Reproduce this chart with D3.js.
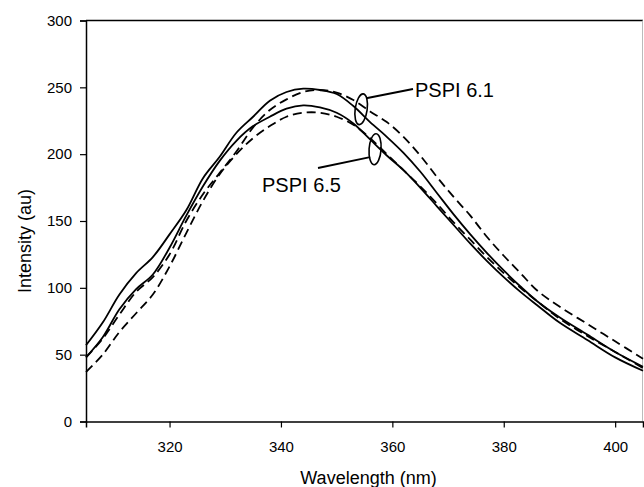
<!DOCTYPE html>
<html>
<head>
<meta charset="utf-8">
<script src="https://cdn.jsdelivr.net/npm/d3@7"></script>
<style>
  body { margin: 0; background: #fff; }
  svg { display: block; font-family: "Liberation Sans", Arial, sans-serif; }
</style>
</head>
<body>
<svg id="chart" width="644" height="487"></svg>
<script>
const width = 644;
const height = 487;
const margin = { top: 20.5, right: 1, bottom: 65.5, left: 86 };

// wavelength grid (nm)
const wavelengths = [305, 308, 311, 314, 317, 320, 323, 326, 329, 332, 335, 338, 341, 344, 347,
  350, 353, 356, 359, 362, 365, 368, 371, 374, 377, 380, 383, 386, 390, 395, 400, 405];

// PSPI 6.1 solid
const solidA = [57, 74, 95, 111, 123, 140, 158, 182, 198, 216, 228, 240, 246.5, 249, 248,
  245, 236, 224, 213, 201, 187, 171, 155, 140, 126, 113, 101, 90, 78, 65, 52, 41];
// PSPI 6.5 solid
const solidB = [48, 63, 84, 99, 110, 130, 154, 176, 195, 210, 221, 228, 234, 236.5, 235,
  231, 223, 211, 199, 188, 175, 161, 147, 133, 120, 108, 97, 87, 74, 61, 48, 38];
// PSPI 6.1 dashed
const dashedC = [48, 62, 80, 97, 108, 125, 150, 170, 186, 202, 220, 233, 241, 246.5, 248,
  246, 240.5, 232, 224, 213, 199, 183, 168, 154, 138, 124, 111, 98, 86, 73, 60, 47];
// PSPI 6.5 dashed
const dashedD = [37, 50, 67, 81, 95, 116, 141, 165, 185, 200, 212, 221, 228, 231, 231,
  228, 222, 212, 200, 188, 176, 163, 149, 136, 123, 111, 100, 90, 77, 64, 52, 40];

const xTicks = [320, 340, 360, 380, 400];
const yTicks = [0, 50, 100, 150, 200, 250, 300];

const series = [
  { values: solidA, dash: null },
  { values: solidB, dash: null },
  { values: dashedC, dash: "9,5" },
  { values: dashedD, dash: "9,5" }
];

// annotations: ellipse centre in data units, label text
const notes = [
  { label: "PSPI 6.1", at: [354.4, 233.6], rot: 8, lineTo: [413, 89], text: [415, 97], anchor: "start" },
  { label: "PSPI 6.5", at: [356.9, 203.7], rot: 4, lineTo: [318, 168], text: [262, 192], anchor: "start" }
];

const svg = d3.select("#chart");

const x = d3.scaleLinear().domain([305, 405]).range([margin.left, width - margin.right]);
const y = d3.scaleLinear().domain([0, 300]).range([height - margin.bottom, margin.top]);

// frame: top and right
svg.append("line")
  .attr("x1", x(305)).attr("x2", x(405))
  .attr("y1", y(300)).attr("y2", y(300))
  .attr("stroke", "#000").attr("stroke-width", 1.3);
svg.append("line")
  .attr("x1", x(405) - 0.5).attr("x2", x(405) - 0.5)
  .attr("y1", y(300)).attr("y2", y(0))
  .attr("stroke", "#bbb").attr("stroke-width", 1);

const xAxis = svg.append("g")
  .attr("transform", `translate(0,${y(0)})`)
  .call(d3.axisBottom(x).tickValues(xTicks).tickSize(6).tickPadding(14).tickFormat(d3.format("d")));

const yAxis = svg.append("g")
  .attr("transform", `translate(${x(305)},0)`)
  .call(d3.axisLeft(y).tickValues(yTicks).tickSize(6).tickPadding(8).tickFormat(d3.format("d")));

[xAxis, yAxis].forEach(g => {
  g.select(".domain").attr("stroke", "#000").attr("stroke-width", 1.5);
  g.selectAll(".tick line").attr("stroke", "#000").attr("stroke-width", 1.2);
  g.selectAll(".tick text")
    .attr("fill", "#000")
    .style("font-size", "15px")
    .style("font-family", "Liberation Sans, Arial, sans-serif");
});

const line = d3.line()
  .x((d, i) => x(wavelengths[i]))
  .y(d => y(d))
  .curve(d3.curveCatmullRom.alpha(0.5));

svg.append("g").selectAll("path")
  .data(series)
  .enter().append("path")
  .attr("d", d => line(d.values))
  .attr("fill", "none")
  .attr("stroke", "#000")
  .attr("stroke-width", 1.8)
  .attr("stroke-dasharray", d => d.dash);

// ellipses, leader lines and labels
const ann = svg.append("g");
notes.forEach(n => {
  const cx = x(n.at[0]), cy = y(n.at[1]);
  ann.append("ellipse")
    .attr("cx", cx).attr("cy", cy)
    .attr("rx", 6).attr("ry", 15.5)
    .attr("transform", `rotate(${n.rot},${cx},${cy})`)
    .attr("fill", "none").attr("stroke", "#000").attr("stroke-width", 1.6);
  const dir = n.lineTo[0] > cx ? 1 : -1;
  const sx = cx + dir * 5;
  const sy = cy + (dir > 0 ? -11 : 8);
  ann.append("line")
    .attr("x1", sx).attr("y1", sy)
    .attr("x2", n.lineTo[0]).attr("y2", n.lineTo[1])
    .attr("stroke", "#000").attr("stroke-width", 1.8);
  ann.append("text")
    .attr("x", n.text[0]).attr("y", n.text[1])
    .attr("text-anchor", n.anchor)
    .style("font-size", "20px")
    .text(n.label);
});

// axis titles
svg.append("text")
  .attr("x", (x(305) + x(405)) / 2 + 4)
  .attr("y", 484)
  .attr("text-anchor", "middle")
  .style("font-size", "18px")
  .text("Wavelength (nm)");

svg.append("text")
  .attr("transform", `translate(31,${(y(0) + y(300)) / 2 + 20}) rotate(-90)`)
  .attr("text-anchor", "middle")
  .style("font-size", "18px")
  .text("Intensity (au)");
</script>
</body>
</html>
